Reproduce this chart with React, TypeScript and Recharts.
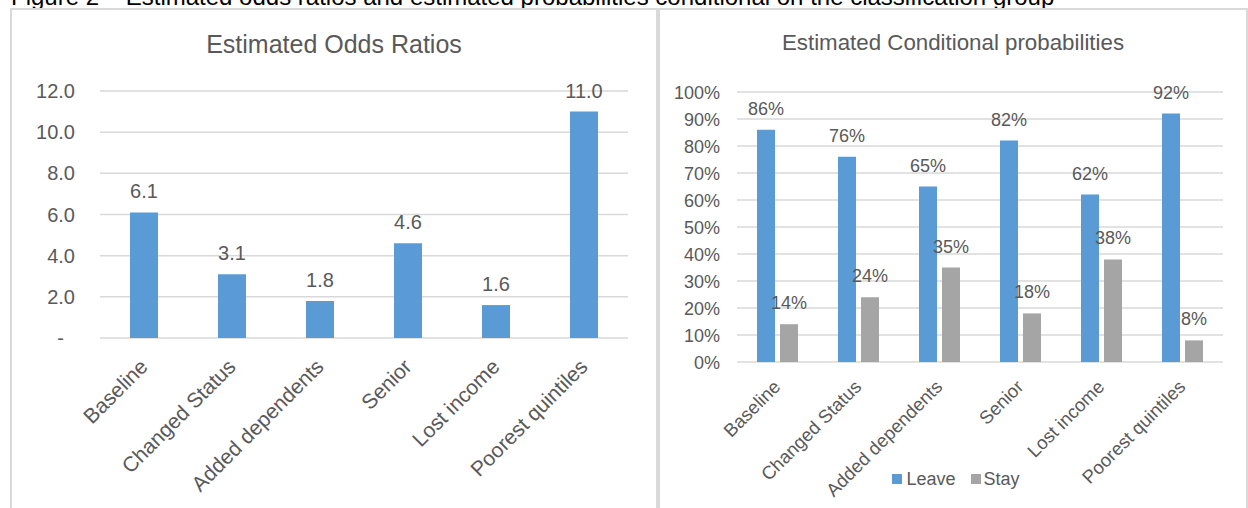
import React from 'react';
import { BarChart, Bar, XAxis, YAxis, CartesianGrid, LabelList, Legend } from 'recharts';

const categories = ['Baseline', 'Changed Status', 'Added dependents', 'Senior', 'Lost income', 'Poorest quintiles'];
const oddsRatios = [6.1, 3.1, 1.8, 4.6, 1.6, 11.0];
const leavePct = [86, 76, 65, 82, 62, 92];
const stayPct = [14, 24, 35, 18, 38, 8];
const oddsTicks = [0, 2, 4, 6, 8, 10, 12];
const pctTicks = [0, 10, 20, 30, 40, 50, 60, 70, 80, 90, 100];

const FONT = '"Liberation Sans", Arial, sans-serif';
const TEXT = '#595959';
const GRID = '#D9D9D9';
const BLUE = '#5B9BD5';
const GREY = '#A5A5A5';

const oddsData = categories.map((category, i) => ({ category, odds: oddsRatios[i] }));
const probData = categories.map((category, i) => ({ category, leave: leavePct[i], stay: stayPct[i] }));

// y-axis labels, Excel accounting style: zero shows as a dash
const OddsTick = ({ y, payload }: any) => (
  <text
    x={payload.value === 0 ? 64 : 75}
    y={y}
    dy={7}
    textAnchor="end"
    fill={TEXT}
    fontSize={20}
    fontFamily={FONT}
  >
    {payload.value === 0 ? '-' : payload.value.toFixed(1)}
  </text>
);

const PctTick = ({ y, payload }: any) => (
  <text x={62} y={y} dy={6.5} textAnchor="end" fill={TEXT} fontSize={18} fontFamily={FONT}>
    {`${payload.value}%`}
  </text>
);

// slanted category labels hanging below the axis
const makeCategoryTick = (axisY: number, dx: number, dy: number, size: number) =>
  ({ x, payload }: any) => (
    <text
      transform={`translate(${x + dx}, ${axisY + dy}) rotate(-45)`}
      textAnchor="end"
      fill={TEXT}
      fontSize={size}
      fontFamily={FONT}
    >
      {payload.value}
    </text>
  );

const LegendContent = ({ payload }: any) => (
  <div
    style={{
      display: 'flex',
      justifyContent: 'center',
      alignItems: 'center',
      fontFamily: FONT,
      fontSize: 18,
      lineHeight: '20px',
      color: TEXT,
      paddingLeft: 6,
    }}
  >
    {(payload || []).map((entry: any, index: number) => (
      <div key={`legend-${index}`} style={{ display: 'flex', alignItems: 'center', marginLeft: index ? 15 : 0 }}>
        <div style={{ width: 10, height: 10, background: entry.color, marginRight: index ? 3 : 4 }} />
        <span>{entry.value}</span>
      </div>
    ))}
  </div>
);

const panel = (left: number, width: number): React.CSSProperties => ({
  position: 'absolute',
  left,
  top: 8,
  width,
  height: 540,
  border: `2px solid ${GRID}`,
  boxSizing: 'border-box',
});

const title = (left: number, width: number, top: number, size: number): React.CSSProperties => ({
  position: 'absolute',
  left,
  top,
  width,
  textAlign: 'center',
  fontFamily: FONT,
  fontSize: size,
  lineHeight: '30px',
  color: TEXT,
});

export default function App() {
  return (
    <div
      style={{
        position: 'absolute',
        left: 0,
        top: 0,
        width: 1248,
        height: 508,
        overflow: 'hidden',
        background: '#fff',
      }}
    >
      <svg width={1248} height={20} style={{ position: 'absolute', left: 0, top: 0 }}>
        <text x={11} y={5} fontSize={24} fontFamily={FONT} fill="#000">
          Figure 2 – Estimated odds ratios and estimated probabilities conditional on the classification group
        </text>
      </svg>

      <div style={panel(10, 648)} />
      <div style={panel(658, 590)} />

      <div style={title(10, 648, 29, 25)}>Estimated Odds Ratios</div>
      <div style={title(658, 590, 28, 22.3)}>Estimated Conditional probabilities</div>

      <div style={{ position: 'absolute', left: 0, top: 0 }}>
        <BarChart width={660} height={508} data={oddsData} margin={{ top: 91, right: 32, bottom: 0, left: 0 }}>
          <CartesianGrid vertical={false} stroke={GRID} strokeWidth={1.5} />
          <XAxis
            dataKey="category"
            height={170}
            interval={0}
            axisLine={false}
            tickLine={false}
            tick={makeCategoryTick(338, 5, 30, 21)}
          />
          <YAxis
            width={100}
            domain={[0, 12]}
            ticks={oddsTicks}
            interval={0}
            axisLine={false}
            tickLine={false}
            tick={<OddsTick />}
          />
          <Bar dataKey="odds" fill={BLUE} barSize={28} isAnimationActive={false}>
            <LabelList
              dataKey="odds"
              position="top"
              offset={14}
              formatter={(v: any) => Number(v).toFixed(1)}
              fill={TEXT}
              fontSize={20}
              fontFamily={FONT}
            />
          </Bar>
        </BarChart>
      </div>

      <div style={{ position: 'absolute', left: 658, top: 0 }}>
        <BarChart
          width={590}
          height={508}
          data={probData}
          margin={{ top: 92, right: 25, bottom: 0, left: 0 }}
          barGap={5}
        >
          <CartesianGrid vertical={false} stroke={GRID} strokeWidth={1.5} />
          <XAxis
            dataKey="category"
            height={146}
            interval={0}
            axisLine={false}
            tickLine={false}
            tick={makeCategoryTick(362, 4, 26, 18.5)}
          />
          <YAxis
            width={79}
            domain={[0, 100]}
            ticks={pctTicks}
            interval={0}
            axisLine={false}
            tickLine={false}
            tick={<PctTick />}
          />
          <Legend
            verticalAlign="middle"
            align="center"
            content={<LegendContent />}
            wrapperStyle={{ top: 469, left: 0, width: 590 }}
          />
          <Bar dataKey="leave" name="Leave" fill={BLUE} barSize={18} isAnimationActive={false}>
            <LabelList
              dataKey="leave"
              position="top"
              offset={15}
              formatter={(v: any) => `${v}%`}
              fill={TEXT}
              fontSize={18}
              fontFamily={FONT}
            />
          </Bar>
          <Bar dataKey="stay" name="Stay" fill={GREY} barSize={18} isAnimationActive={false}>
            <LabelList
              dataKey="stay"
              position="top"
              offset={15}
              formatter={(v: any) => `${v}%`}
              fill={TEXT}
              fontSize={18}
              fontFamily={FONT}
            />
          </Bar>
        </BarChart>
      </div>
    </div>
  );
}
